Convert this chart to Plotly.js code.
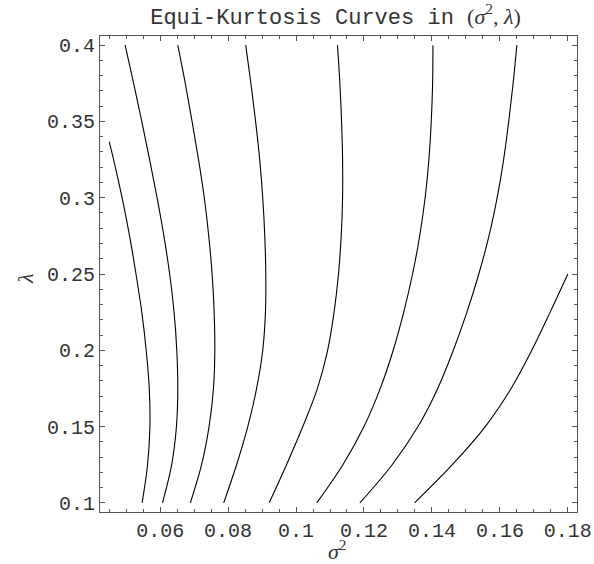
<!DOCTYPE html>
<html><head><meta charset="utf-8">
<script src="https://cdn.plot.ly/plotly-3.0.1.min.js"></script>
<style>html,body{margin:0;padding:0;background:#fff}</style>
</head><body><div id="chart" style="width:594px;height:564px"></div>
<script>
// lambda grid (top to bottom) shared by the curves that span the full height
const lambdaGrid = [0.4,0.375,0.35,0.325,0.3,0.275,0.25,0.225,0.2,0.175,0.15,0.125,0.1];
// curve 1 starts inside the plot
const c1Lambda = [0.3367,0.325,0.3,0.275,0.25,0.225,0.2,0.175,0.15,0.125,0.1];
const c1Sigma2 = [0.0450,0.0463,0.0488,0.0510,0.0529,0.0546,0.0559,0.0568,0.0570,0.0563,0.0547];
const c2Sigma2 = [0.0497,0.0522,0.0546,0.0569,0.0591,0.0611,0.0628,0.0641,0.0649,0.0652,0.0648,0.0634,0.0607];
const c3Sigma2 = [0.0652,0.0674,0.0694,0.0713,0.0730,0.0743,0.0753,0.0759,0.0761,0.0757,0.0744,0.0722,0.0689];
const c4Sigma2 = [0.0852,0.0867,0.0881,0.0893,0.0902,0.0908,0.0911,0.0910,0.0902,0.0884,0.0858,0.0825,0.0787];
const c5Sigma2 = [0.1122,0.1129,0.1134,0.1137,0.1137,0.1133,0.1125,0.1112,0.1093,0.1063,0.1020,0.0972,0.0921];
const c6Sigma2 = [0.1403,0.1402,0.1398,0.1391,0.1380,0.1364,0.1343,0.1317,0.1286,0.1248,0.1200,0.1138,0.1061];
const c7Sigma2 = [0.1650,0.1639,0.1626,0.1611,0.1592,0.1568,0.1538,0.1503,0.1463,0.1417,0.1359,0.1283,0.1188];
// curve 8 ends at the right edge of the domain
const c8Lambda = [0.25,0.225,0.2,0.175,0.15,0.125,0.1];
const c8Sigma2 = [0.1800,0.1748,0.1694,0.1633,0.1557,0.1460,0.1349];

const xTickVals = [0.06,0.08,0.1,0.12,0.14,0.16,0.18];
const xTickText = ["0.06","0.08","0.1","0.12","0.14","0.16","0.18"];
const yTickVals = [0.1,0.15,0.2,0.25,0.3,0.35,0.4];
const yTickText = ["0.1","0.15","0.2","0.25","0.3","0.35","0.4"];

const curves = [
  [c1Sigma2, c1Lambda],
  [c2Sigma2, lambdaGrid],
  [c3Sigma2, lambdaGrid],
  [c4Sigma2, lambdaGrid],
  [c5Sigma2, lambdaGrid],
  [c6Sigma2, lambdaGrid],
  [c7Sigma2, lambdaGrid],
  [c8Sigma2, c8Lambda]
];

const traces = curves.map(c => ({
  x: c[0], y: c[1], type: 'scatter', mode: 'lines',
  line: {color: '#000', width: 1.1, shape: 'spline', smoothing: 1},
  hoverinfo: 'skip', showlegend: false
}));

const monoFont = 'Liberation Mono, Courier New, monospace';
const serifFont = 'Liberation Serif, Times New Roman, serif';

const axisCommon = {
  showgrid: false, zeroline: false,
  showline: true, linecolor: '#555', linewidth: 1, mirror: 'ticks',
  ticks: 'inside', ticklen: 5, tickwidth: 1, tickcolor: '#555',
  tickfont: {family: monoFont, size: 20, color: '#333'},
  tickmode: 'array'
};

const layout = {
  width: 594, height: 564,
  margin: {l: 100, r: 17, t: 36, b: 52},
  paper_bgcolor: '#fff', plot_bgcolor: '#fff',
  showlegend: false,
  title: {
    text: "Equi-Kurtosis Curves in <span style=\"font-family:'Liberation Serif'\">(<i>σ</i><sup>2</sup>, <i>λ</i>)</span>",
    font: {family: monoFont, size: 22, color: '#333'},
    xref: 'container', x: 335.5/594, xanchor: 'center',
    yref: 'container', y: 1 - 16/564, yanchor: 'middle'
  },
  xaxis: Object.assign({}, axisCommon, {
    range: [0.0423, 0.1827],
    tickvals: xTickVals, ticktext: xTickText,
    minor: {tickmode: 'linear', tick0: 0, dtick: 0.005, ticks: 'inside', ticklen: 3, tickcolor: '#555', showgrid: false}
  }),
  yaxis: Object.assign({}, axisCommon, {
    range: [0.094, 0.406],
    tickvals: yTickVals, ticktext: yTickText,
    minor: {tickmode: 'linear', tick0: 0, dtick: 0.01, ticks: 'inside', ticklen: 3, tickcolor: '#555', showgrid: false}
  }),
  annotations: [
    {text: '<i>σ</i><sup>2</sup>', xref: 'paper', yref: 'paper', x: 0.497, y: 0,
     xanchor: 'center', yanchor: 'bottom', yshift: -54, showarrow: false,
     font: {family: serifFont, size: 22, color: '#333'}},
    {text: '<i>λ</i>', xref: 'paper', yref: 'paper', x: 0, y: 0.5,
     xanchor: 'center', yanchor: 'middle', xshift: -75, yshift: -5, textangle: -90, showarrow: false,
     font: {family: serifFont, size: 22, color: '#333'}}
  ]
};

Plotly.newPlot('chart', traces, layout, {displayModeBar: false, staticPlot: true});
</script></body></html>
